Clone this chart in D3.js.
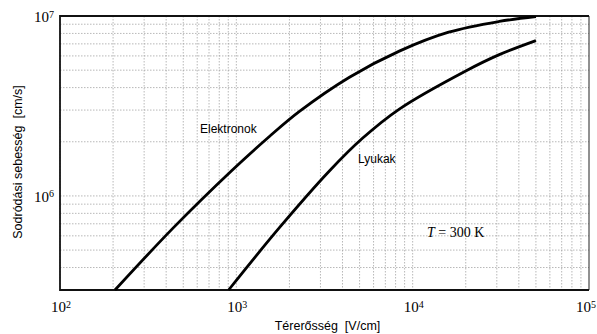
<!DOCTYPE html>
<html>
<head>
<meta charset="utf-8">
<script src="https://cdn.jsdelivr.net/npm/d3@7"></script>
<style>
  body { margin: 0; background: #fff; }
  svg { display: block; }
</style>
</head>
<body>
<svg id="chart" width="597" height="334"></svg>
<script>
// electric field [V/cm] and drift velocity [cm/s]
var elE = [205, 436, 940, 1540, 2280, 4380, 8400, 16000, 31000, 50000]
var elV = [3.0e5, 6.6e5, 1.38e6, 2.14e6, 2.95e6, 4.57e6, 6.38e6, 8.13e6, 9.33e6, 9.93e6]
var hoE = [904, 1760, 3380, 5190, 8400, 20000, 31000, 50000]
var hoV = [3.0e5, 6.68e5, 1.38e6, 2.09e6, 3.04e6, 4.95e6, 6.1e6, 7.3e6]
var xTicks = [1e2, 1e3, 1e4, 1e5]
var yTicks = [1e6, 1e7]
var xTitle = 'Térerősség  [V/cm]'
var yTitle = 'Sodródási sebesség  [cm/s]'

var margin = {top: 16, right: 8, bottom: 44, left: 60}
var width = 597 - margin.left - margin.right
var height = 334 - margin.top - margin.bottom

var x = d3.scaleLog().domain([1e2, 1e5]).range([0, width])
var y = d3.scaleLog().domain([3e5, 1e7]).range([height, 0])

var svg = d3.select('#chart')
var g = svg.append('g')
  .attr('transform', 'translate(' + margin.left + ',' + margin.top + ')')

// grid: every 1..9 of each decade
var xGrid = []
for (var d = 100; d < 1e5; d *= 10) for (var k = 1; k < 10; k++) xGrid.push(d * k)
var yGrid = []
for (var d2 = 1e5; d2 < 1e7; d2 *= 10) for (var k2 = 1; k2 < 10; k2++) {
  if (d2 * k2 > 3e5) yGrid.push(d2 * k2)
}

g.append('g').selectAll('line').data(xGrid).enter().append('line')
  .attr('x1', function (v) { return x(v) }).attr('x2', function (v) { return x(v) })
  .attr('y1', 0).attr('y2', height)
  .attr('stroke', '#999').attr('stroke-width', 0.7)
  .attr('stroke-dasharray', '1.5,1.5')
g.append('g').selectAll('line').data(yGrid).enter().append('line')
  .attr('y1', function (v) { return y(v) }).attr('y2', function (v) { return y(v) })
  .attr('x1', 0).attr('x2', width)
  .attr('stroke', '#999').attr('stroke-width', 0.7)
  .attr('stroke-dasharray', '1.5,1.5')

// frame
g.append('line').attr('x1', width).attr('x2', width).attr('y1', 0).attr('y2', height)
  .attr('stroke', '#222').attr('stroke-width', 1)
g.append('path')
  .attr('d', 'M' + width + ',0H0V' + height + 'H' + width)
  .attr('fill', 'none').attr('stroke', '#111').attr('stroke-width', 1.8)

// curves
g.append('clipPath').attr('id', 'clip').append('rect')
  .attr('width', width).attr('height', height + 1)

var line = d3.line()
  .x(function (p) { return x(p[0]) })
  .y(function (p) { return y(p[1]) })
  .curve(d3.curveCatmullRom.alpha(0.5))

var series = [d3.zip(elE, elV), d3.zip(hoE, hoV)]
g.append('g').attr('clip-path', 'url(#clip)')
  .selectAll('path').data(series).enter().append('path')
  .attr('d', line)
  .attr('fill', 'none').attr('stroke', '#000').attr('stroke-width', 2.8)

// tick labels with superscript exponents
function powLabel(sel) {
  sel.each(function (v) {
    var t = d3.select(this)
    t.text('10')
    t.append('tspan').attr('dy', '-0.45em').attr('font-size', '10px')
      .text(Math.round(Math.log10(v)))
  })
}

g.append('g').selectAll('text').data(xTicks).enter().append('text')
  .attr('x', function (v) { return v === 1e5 ? 597 - margin.left - 1 : x(v) + 1 })
  .attr('y', height + 22)
  .attr('text-anchor', function (v) { return v === 1e5 ? 'end' : 'middle' })
  .attr('font-family', 'Liberation Serif, serif').attr('font-size', '15px')
  .call(powLabel)

g.append('g').selectAll('text').data(yTicks).enter().append('text')
  .attr('x', -6).attr('y', function (v) { return y(v) + 6 })
  .attr('text-anchor', 'end')
  .attr('font-family', 'Liberation Serif, serif').attr('font-size', '15px')
  .call(powLabel)

// axis titles
svg.append('text')
  .attr('x', margin.left + width / 2 + 3).attr('y', 330)
  .attr('text-anchor', 'middle')
  .attr('font-family', 'Liberation Sans, Arial, sans-serif').attr('font-size', '12.5px')
  .attr('xml:space', 'preserve')
  .text(xTitle)
svg.append('text')
  .attr('transform', 'translate(22,' + (margin.top + 146) + ') rotate(-90)')
  .attr('text-anchor', 'middle')
  .attr('font-family', 'Liberation Sans, Arial, sans-serif').attr('font-size', '12.5px')
  .attr('xml:space', 'preserve')
  .text(yTitle)

// curve labels
g.append('text').attr('x', 200 - margin.left).attr('y', 133 - margin.top)
  .attr('font-family', 'Liberation Sans, Arial, sans-serif').attr('font-size', '12px')
  .text('Elektronok')
g.append('text').attr('x', 358 - margin.left).attr('y', 163 - margin.top)
  .attr('font-family', 'Liberation Sans, Arial, sans-serif').attr('font-size', '12px')
  .text('Lyukak')

var tl = g.append('text').attr('x', 427 - margin.left).attr('y', 237 - margin.top)
  .attr('font-family', 'Liberation Serif, serif').attr('font-size', '14px')
tl.append('tspan').attr('font-style', 'italic').text('T')
tl.append('tspan').text(' = 300 K')
</script>
</body>
</html>
